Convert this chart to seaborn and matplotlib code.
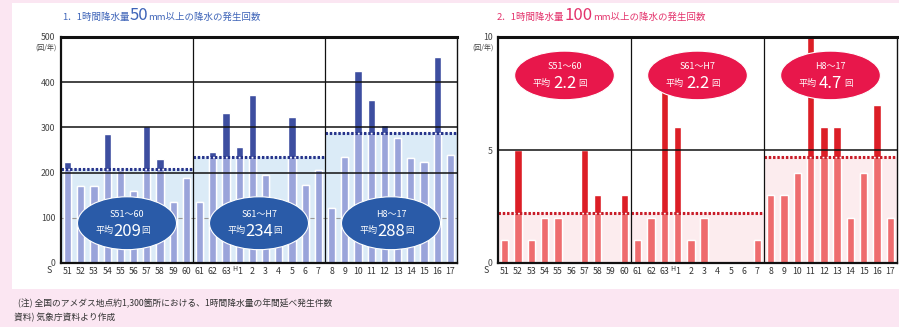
import numpy as np
import pandas as pd
import matplotlib
matplotlib.use("Agg")
import matplotlib.pyplot as plt
from matplotlib.patches import Ellipse, Rectangle
import seaborn as sns

# Years: Showa 51-63, Heisei 1-17
year_labels = ["51", "52", "53", "54", "55", "56", "57", "58", "59", "60",
               "61", "62", "63", "H1", "2", "3", "4", "5", "6", "7",
               "8", "9", "10", "11", "12", "13", "14", "15", "16", "17"]
period_names = ["S51～60", "S61～H7", "H8～17"]

# Annual occurrences of hourly rainfall >= 50 mm
counts_50mm = [223, 170, 170, 286, 205, 159, 304, 229, 136, 187,
               135, 246, 332, 256, 372, 195, 100, 324, 172, 206,
               122, 235, 424, 361, 306, 277, 232, 223, 455, 240]
mean_50mm = [209, 234, 288]
mean_50mm_text = ["209", "234", "288"]

# Annual occurrences of hourly rainfall >= 100 mm
counts_100mm = [1, 5, 1, 2, 2, 0, 5, 3, 0, 3,
                1, 2, 9, 6, 1, 2, 0, 0, 0, 1,
                3, 3, 4, 10, 6, 6, 2, 4, 7, 2]
mean_100mm = [2.2, 2.2, 4.7]
mean_100mm_text = ["2.2", "2.2", "4.7"]

sns.set_style("white")
plt.rcParams["font.family"] = ["Noto Sans CJK JP", "DejaVu Sans"]

PINK_BG = "#fbe6f2"
fig = plt.figure(figsize=(8.99, 3.27), dpi=100, facecolor=PINK_BG)
fig.patches.append(Rectangle((12 / 899, 38 / 327), 1 - 12 / 899, 286 / 327,
                             transform=fig.transFigure, facecolor="white",
                             edgecolor="none", zorder=-10))

ax1 = fig.add_axes([61 / 899, 64 / 327, 396 / 899, 226 / 327])
ax2 = fig.add_axes([498 / 899, 64 / 327, 399 / 899, 226 / 327])


def draw_panel(ax, counts, means, mean_txt, ymax, grid_vals, faint_vals,
               dark, light, shade, dot, ell_color, ell_cy, ell_h, num_size):
    period = np.repeat([0, 1, 2], 10)
    base = [min(c, means[p]) for c, p in zip(counts, period)]
    df = pd.DataFrame({"year": year_labels, "count": counts, "base": base})

    # full bar in the dark tone, lower part up to the period mean in the light tone
    sns.barplot(data=df, x="year", y="count", color=dark, saturation=1,
                width=0.55, errorbar=None, ax=ax, zorder=3)
    sns.barplot(data=df, x="year", y="base", color=light, saturation=1,
                width=0.55, errorbar=None, ax=ax, zorder=3.5)

    ax.set_xlim(-0.5, 29.5)
    ax.set_ylim(0, ymax)
    ax.set_xlabel("")
    ax.set_ylabel("")
    ax.set_facecolor("white")

    for p in range(3):
        x0, x1 = p * 10 - 0.5, p * 10 + 9.5
        ax.fill_between([x0, x1], 0, means[p], color=shade, zorder=0.5, lw=0)
        ax.hlines(means[p], x0, x1, colors=dot, linestyles=(0, (0.8, 0.6)),
                  lw=2.2, zorder=5)
        cx = p * 10 + 4.5
        ax.add_patch(Ellipse((cx, ell_cy), 7.5, ell_h, facecolor=ell_color,
                             edgecolor="white", lw=0.8, zorder=7))
        ax.annotate(period_names[p], (cx, ell_cy), xytext=(0, 6.5),
                    textcoords="offset points", ha="center", va="center",
                    color="white", fontsize=6.5, zorder=8)
        ax.annotate("平均", (cx, ell_cy), xytext=(-10, -5.5),
                    textcoords="offset points", ha="right", va="center",
                    color="white", fontsize=6.5, zorder=8)
        ax.annotate(mean_txt[p], (cx, ell_cy), xytext=(0, -6),
                    textcoords="offset points", ha="center", va="center",
                    color="white", fontsize=num_size, zorder=8)
        ax.annotate("回", (cx, ell_cy), xytext=(10, -5.5),
                    textcoords="offset points", ha="left", va="center",
                    color="white", fontsize=6, zorder=8)

    for v in faint_vals:
        ax.axhline(v, color="#9a9a9a", lw=0.8, zorder=1)
    for v in grid_vals:
        ax.axhline(v, color="#111111", lw=1.1, zorder=6)
    for xv in (9.5, 19.5):
        ax.axvline(xv, color="#111111", lw=0.9, zorder=6)

    for side, lw in (("top", 2.2), ("left", 1.6), ("bottom", 1.6), ("right", 1.0)):
        ax.spines[side].set_visible(True)
        ax.spines[side].set_color("#111111")
        ax.spines[side].set_linewidth(lw)
        ax.spines[side].set_zorder(9)

    # era prefix "H" is drawn as a small raised letter beside the year number
    ax.set_xticks(range(30))
    ax.set_xticklabels([l.lstrip("H") for l in year_labels])
    for i, l in enumerate(year_labels):
        if l.startswith("H"):
            ax.annotate("H", (i, 0), xycoords=("data", "axes fraction"),
                        xytext=(-3.4, -4.6), textcoords="offset points",
                        ha="center", va="center", fontsize=5,
                        color="#333333")
    ax.tick_params(axis="x", length=0, pad=3, labelsize=6.3,
                   labelcolor="#333333")
    ax.tick_params(axis="y", length=0, pad=4, labelsize=6.3,
                   labelcolor="#444444")
    ax.text(-0.022, -0.035, "S", transform=ax.transAxes, ha="right",
            va="center", fontsize=6.3, color="#333333")
    ax.text(-0.012, 0.955, "(回/年)", transform=ax.transAxes, ha="right",
            va="center", fontsize=5, color="#444444")


draw_panel(ax1, counts_50mm, mean_50mm, mean_50mm_text, 500,
           [200, 300, 400], [100],
           dark="#3d4ea0", light="#9aa4da", shade="#dbebf7", dot="#27348b",
           ell_color="#2a5ba8", ell_cy=88, ell_h=117, num_size=12)
ax1.set_yticks([0, 100, 200, 300, 400, 500])

draw_panel(ax2, counts_100mm, mean_100mm, mean_100mm_text, 10,
           [5], [],
           dark="#dc1e26", light="#ee6c6e", shade="#fcecee", dot="#c81c28",
           ell_color="#e8174b", ell_cy=8.3, ell_h=2.15, num_size=12)
ax2.set_yticks([0, 5, 10])

renderer = fig.canvas.get_renderer()


def rich_title(x_px, y_px, parts, color):
    x = x_px / 899
    y = 1 - y_px / 327
    for s, size in parts:
        t = fig.text(x, y, s, fontsize=size, color=color, ha="left",
                     va="baseline")
        bb = t.get_window_extent(renderer=renderer)
        x += bb.width / fig.bbox.width


rich_title(62, 20, [("1．1時間降水量", 6.8), ("50", 12), ("mm以上の降水の発生回数", 6.8)],
           "#3e64b8")
rich_title(497, 20, [("2．1時間降水量", 6.8), ("100", 12), ("mm以上の降水の発生回数", 6.8)],
           "#e4336c")

fig.text(18 / 899, 1 - 303 / 327,
         "(注) 全国のアメダス地点約1,300箇所における、1時間降水量の年間延べ発生件数",
         fontsize=6.3, color="#333333", va="center")
fig.text(14 / 899, 1 - 317 / 327, "資料) 気象庁資料より作成",
         fontsize=6.3, color="#333333", va="center")

fig.savefig("out.png", dpi=100, facecolor=PINK_BG)
